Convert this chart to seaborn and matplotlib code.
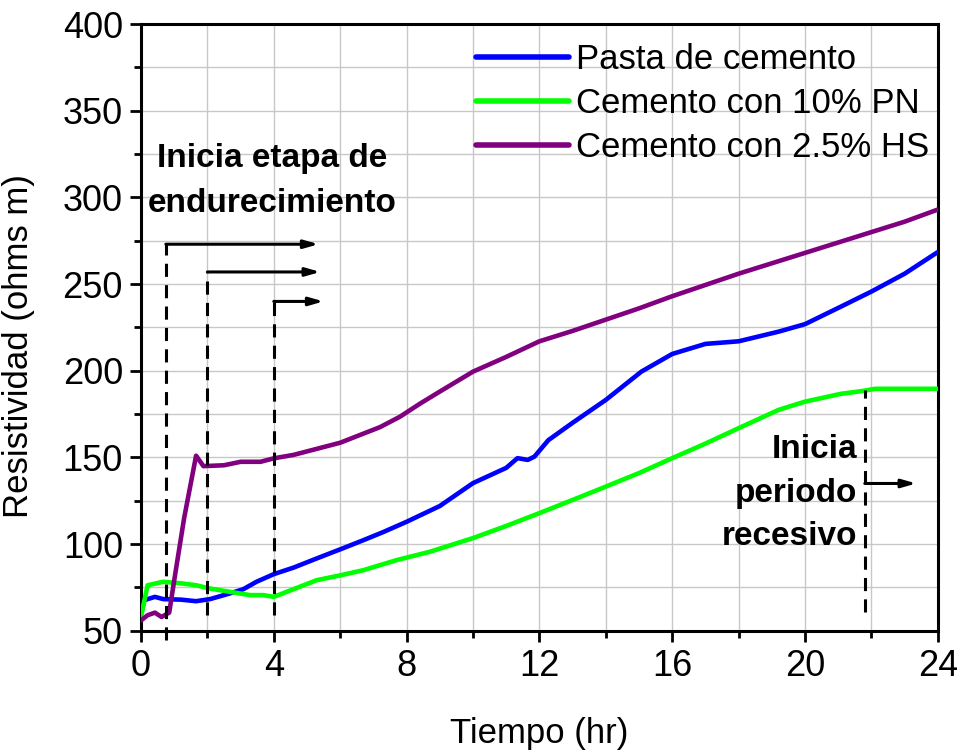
import numpy as np
import pandas as pd
import matplotlib
matplotlib.use("Agg")
import matplotlib.pyplot as plt
from matplotlib.ticker import MultipleLocator
import seaborn as sns

# Resistivity readings (ohms m) against time (hr)
t_pasta = [0, 0.1, 0.42, 0.67, 1.2, 1.66, 2.08, 2.68, 3.08, 3.48, 4.0, 4.6, 5.3, 6.0,
           6.7, 7.3, 8.0, 9.0, 10.0, 11.0, 11.34, 11.65, 11.85, 12.27, 13.0, 14.0,
           15.07, 16.0, 17.0, 18.0, 19.21, 20.0, 21.08, 22.0, 23.0, 24.0]
r_pasta = [60, 67.7, 69.6, 68.3, 68, 67.1, 68.3, 71.6, 74, 78.3, 82.7, 86.5, 91.8, 97,
           102.3, 107, 112.9, 122, 135.2, 144, 149.6, 148.6, 150.5, 160, 170, 183.2,
           199.5, 209.7, 215.5, 217, 222.6, 226.9, 237, 245.7, 256, 268.5]

t_pn = [0, 0.2, 0.67, 1.17, 1.66, 2.08, 2.68, 3.28, 3.68, 4.0, 4.39, 5.29, 6.0, 6.7,
        7.7, 8.7, 10.0, 11.0, 12.0, 13.0, 14.0, 15.0, 16.0, 17.0, 18.0, 19.21, 20.0,
        21.08, 21.75, 22.11, 23.0, 24.0]
r_pn = [58, 76.3, 78.3, 77.5, 76.3, 74.4, 72.5, 70.6, 70.6, 69.6, 72.5, 79.2, 82, 85,
        90.8, 95.6, 103.5, 110.5, 117.9, 125.5, 133.2, 141, 149.6, 158, 166.9, 177.5,
        182.2, 186.7, 188.4, 189.6, 189.6, 189.6]

t_hs = [0, 0.2, 0.42, 0.62, 0.85, 1.05, 1.3, 1.48, 1.66, 1.88, 2.5, 3.0, 3.6, 4.0, 4.6,
        5.3, 6.0, 6.6, 7.2, 7.8, 8.4, 9.0, 10.0, 11.0, 12.0, 13.0, 14.0, 15.0, 16.0,
        17.0, 18.0, 19.0, 20.0, 21.0, 22.0, 23.0, 24.0]
r_hs = [56, 59, 60.5, 58, 60.5, 85, 115, 133, 151, 145, 145.5, 147.5, 147.5, 149.5,
        151.5, 155, 158.5, 163, 167.5, 173.5, 181, 188, 199.5, 208, 217, 223, 229.5,
        236, 243, 249.5, 256, 262, 268, 274, 280, 286, 293]

series_names = ["Pasta de cemento", "Cemento con 10% PN", "Cemento con 2.5% HS"]
series_colors = ["#0000FF", "#00FF00", "#800080"]

# Stage markers: (start time, top of dashed line, arrow end time)
hardening_starts = [0.75, 2.0, 4.0]
hardening_tops = [273, 257, 240]
hardening_arrow_end = [5.35, 5.4, 5.5]
recess_start = 21.8
recess_top = 189
recess_arrow_y = 135
recess_arrow_end = 23.35

df = pd.concat([
    pd.DataFrame({"Tiempo": t_pasta, "Resistividad": r_pasta, "Serie": series_names[0]}),
    pd.DataFrame({"Tiempo": t_pn, "Resistividad": r_pn, "Serie": series_names[1]}),
    pd.DataFrame({"Tiempo": t_hs, "Resistividad": r_hs, "Serie": series_names[2]}),
])

sns.set_theme(style="ticks")
plt.rcParams["font.family"] = ["Liberation Sans", "DejaVu Sans"]
plt.rcParams["text.color"] = "black"
plt.rcParams["axes.labelcolor"] = "black"

fig = plt.figure(figsize=(9.57, 7.51), dpi=100)
ax = fig.add_axes([0.1473, 0.160, 0.8327, 0.808])

sns.lineplot(data=df, x="Tiempo", y="Resistividad", hue="Serie",
             hue_order=series_names, palette=series_colors, linewidth=3.3,
             estimator=None, sort=False, ax=ax, zorder=3)

ax.set_xlim(0, 24)
ax.set_ylim(50, 400)
ax.xaxis.set_major_locator(MultipleLocator(4))
ax.xaxis.set_minor_locator(MultipleLocator(2))
ax.yaxis.set_major_locator(MultipleLocator(50))
ax.yaxis.set_minor_locator(MultipleLocator(25))
ax.grid(True, which="both", color="#c8c8c8", linewidth=1.0, zorder=0)
ax.set_axisbelow(True)

for sp in ax.spines.values():
    sp.set_linewidth(2.2)
    sp.set_color("black")
ax.tick_params(axis="both", which="major", direction="out", length=8, width=2.0,
               labelsize=26, pad=5, color="black", labelcolor="black")
ax.tick_params(axis="both", which="minor", direction="out", length=5, width=2.0,
               color="black")

ax.set_xlabel("Tiempo (hr)", fontsize=25, color="black")
ax.set_ylabel("Resistividad (ohms m)", fontsize=25, color="black")
ax.xaxis.set_label_coords(0.5, -0.142)
ax.yaxis.set_label_coords(-0.133, 0.47)

# Dashed vertical markers and arrows for the hardening stage
dash_style = (0, (4.3, 2.7))
for i, (x0, top, xend) in enumerate(zip(hardening_starts, hardening_tops, hardening_arrow_end)):
    bottom = 45 if i == 0 else 59
    ax.plot([x0, x0], [bottom, top], color="black", linewidth=2.2,
            linestyle=dash_style, clip_on=False, zorder=4)
    ax.annotate("", xy=(xend, top), xytext=(x0, top),
                arrowprops=dict(arrowstyle="-|>,head_length=0.7,head_width=0.2",
                                color="black", lw=2.2, shrinkA=0, shrinkB=0),
                zorder=4)

ax.plot([recess_start, recess_start], [61, recess_top], color="black", linewidth=2.2,
        linestyle=dash_style, zorder=4)
ax.annotate("", xy=(recess_arrow_end, recess_arrow_y), xytext=(recess_start, recess_arrow_y),
            arrowprops=dict(arrowstyle="-|>,head_length=0.7,head_width=0.2",
                            color="black", lw=2.2, shrinkA=0, shrinkB=0),
            zorder=4)

ax.text(3.95, 309.5, "Inicia etapa de\nendurecimiento", fontsize=24, fontweight="bold",
        ha="center", va="center", linespacing=1.55, color="black")
ax.text(21.57, 129.5, "Inicia\nperiodo\nrecesivo", fontsize=24, fontweight="bold",
        ha="right", va="center", linespacing=1.52, color="black")

leg = ax.legend(loc="upper right", bbox_to_anchor=(0.994, 0.974), frameon=False,
                fontsize=25, handlelength=2.7, handletextpad=0.2, labelspacing=0.31,
                borderaxespad=0, borderpad=0.1, labelcolor="black")
for line in leg.get_lines():
    line.set_linewidth(4.0)

fig.savefig("out.png", dpi=100)
